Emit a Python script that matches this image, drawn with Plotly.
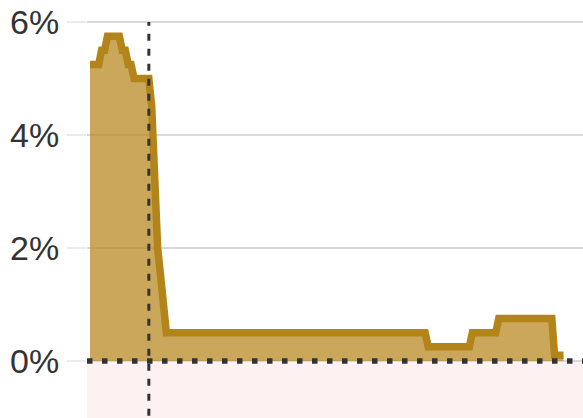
import plotly.graph_objects as go

# Policy rate (%), change points (monthly)
dates = ["2007-01-01", "2007-04-01", "2007-05-01", "2007-06-01", "2007-07-01",
         "2007-11-01", "2007-12-01", "2008-01-01", "2008-02-01", "2008-03-01",
         "2008-04-01", "2008-09-01", "2008-10-01", "2008-11-01", "2008-12-01",
         "2009-01-01", "2009-02-01", "2009-03-01", "2016-07-01", "2016-08-01",
         "2017-10-01", "2017-11-01", "2018-07-01", "2018-08-01", "2020-02-01",
         "2020-03-01", "2020-06-01"]
rates = [5.25, 5.25, 5.5, 5.5, 5.75,
         5.75, 5.5, 5.5, 5.25, 5.25,
         5.0, 5.0, 4.5, 3.0, 2.0,
         1.5, 1.0, 0.5, 0.5, 0.25,
         0.25, 0.5, 0.5, 0.75, 0.75,
         0.1, 0.1]

tick_vals = [0, 2, 4, 6]
tick_text = ["0%", "2%", "4%", "6%"]
marker_date = "2008-09-01"

LINE = "#b3841a"
FILL = "rgba(181,133,27,0.72)"

fig = go.Figure()
fig.add_trace(go.Scatter(
    x=dates, y=rates, mode="lines",
    line=dict(color=LINE, width=7.5),
    fill="tozeroy", fillcolor=FILL,
    hoverinfo="skip", showlegend=False,
))

fig.add_shape(type="rect", xref="paper", x0=0, x1=1, yref="y", y0=-1.5, y1=0,
              fillcolor="#fdf1f1", line=dict(width=0), layer="below")
fig.add_shape(type="line", xref="x", x0=marker_date, x1=marker_date,
              yref="y", y0=-1.5, y1=6,
              line=dict(color="#333333", width=3, dash="7px,8px"), layer="above")
fig.add_shape(type="line", xref="paper", x0=0, x1=1, yref="y", y0=0, y1=0,
              line=dict(color="#333333", width=5.5, dash="5.5px,9.5px"), layer="above")

fig.update_layout(
    width=583, height=418,
    margin=dict(l=87, r=0, t=0, b=0, autoexpand=False),
    paper_bgcolor="white", plot_bgcolor="white",
    font=dict(family="Liberation Sans", size=34, color="#333333"),
    xaxis=dict(range=["2006-12-01", "2020-12-20"], visible=False,
               showgrid=False, zeroline=False, automargin=False),
    yaxis=dict(range=[-1.01, 6.39], tickvals=tick_vals, ticktext=tick_text,
               showgrid=True, gridcolor="#d9d9d9", gridwidth=2,
               zeroline=False, showline=False, automargin=False,
               ticks="outside", ticklen=19, tickwidth=2, tickcolor="#ebebeb",
               ticklabelstandoff=1),
)

fig.write_html("out.html", config={"displayModeBar": False},
               post_script="document.body.style.margin='0';")
